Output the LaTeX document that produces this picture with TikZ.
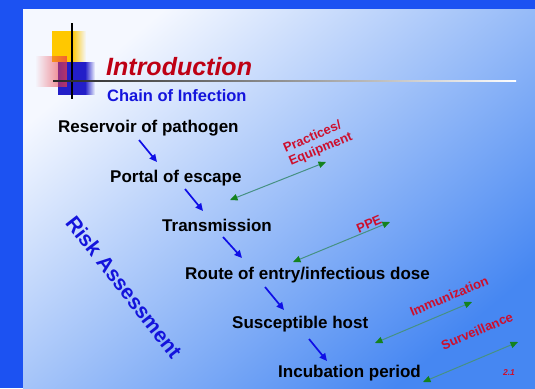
\documentclass[tikz,border=0pt]{standalone}
\usepackage{fontspec}
\setmainfont{Liberation Sans}
\usetikzlibrary{arrows.meta,fadings}
\definecolor{frameblue}{RGB}{28,82,242}
\definecolor{panelA}{RGB}{245,248,255}
\definecolor{panelB}{RGB}{160,192,250}
\definecolor{panelC}{RGB}{70,135,242}
\definecolor{titlered}{RGB}{190,0,20}
\definecolor{labelred}{RGB}{205,15,45}
\definecolor{textblue}{RGB}{20,20,220}
\definecolor{arrowblue}{RGB}{15,15,230}
\definecolor{lineteal}{RGB}{70,145,130}
\definecolor{tipgreen}{RGB}{20,130,30}
\definecolor{decoyellow}{RGB}{255,200,0}
\definecolor{decored}{RGB}{235,60,70}
\definecolor{decoblue}{RGB}{35,30,200}
\tikzset{
  chainitem/.style={anchor=base west, inner sep=0pt, font=\fontsize{17}{20}\selectfont\bfseries, text=black},
  sidelabel/.style={inner sep=0pt, rotate=23, font=\fontsize{13}{14.5}\selectfont\bfseries, text=labelred},
  bluearrow/.style={draw=arrowblue, line width=1.7pt, -{Triangle[length=7.5pt,width=7pt]}},
  greenarrow/.style={draw=lineteal, line width=1pt,
     {Triangle[length=7.5pt,width=6.5pt,color=tipgreen]}-{Triangle[length=7.5pt,width=6.5pt,color=tipgreen]}}
}
\begin{document}
\begin{tikzpicture}[x=1pt,y=-1pt]
\useasboundingbox (0,0) rectangle (535,388);
% frame and panel
\fill[frameblue] (0,0) rectangle (535,388);
\shade[top color=panelA, middle color=panelB, bottom color=panelC, shading angle=40] (23,9) rectangle (535,388);
% decoration
\fill[decoblue] (58,62) rectangle (85,95);
\fill[decoblue, path fading=east] (85,62) rectangle (95,95);
\fill[decoyellow] (52,31) rectangle (72,62);
\fill[decoyellow, path fading=east] (72,31) rectangle (86,62);
\fill[decored, fill opacity=0.75, path fading=west] (35,56) rectangle (67,87);
\draw[black, line width=1.3pt] (72,23) -- (72,99);
\shade[left color=black!85, middle color=black!55, right color=white] (53,80.3) rectangle (516,81.7);
% titles
\node[anchor=base west, inner sep=0pt, font=\fontsize{25}{28}\selectfont\bfseries\itshape, text=titlered] (title) at (106,75) {Introduction};
\node[anchor=base west, inner sep=0pt, font=\fontsize{16.5}{19}\selectfont\bfseries, text=textblue] (subtitle) at (107,101) {Chain of Infection};
% chain
\node[chainitem] (n1) at (58,132) {Reservoir of pathogen};
\node[chainitem] (n2) at (110,182) {Portal of escape};
\node[chainitem] (n3) at (162,231) {Transmission};
\node[chainitem] (n4) at (185,279) {Route of entry/infectious dose};
\node[chainitem] (n5) at (232,328) {Susceptible host};
\node[chainitem] (n6) at (278,377) {Incubation period};
% blue arrows
\coordinate (a1s) at (139,140); \coordinate (a1e) at (157,162);
\coordinate (a2s) at (185,189); \coordinate (a2e) at (203,211);
\coordinate (a3s) at (223,237); \coordinate (a3e) at (242,258);
\coordinate (a4s) at (265,287); \coordinate (a4e) at (284,310);
\coordinate (a5s) at (309,339); \coordinate (a5e) at (327,361);
\draw[bluearrow] (a1s) -- (a1e);
\draw[bluearrow] (a2s) -- (a2e);
\draw[bluearrow] (a3s) -- (a3e);
\draw[bluearrow] (a4s) -- (a4e);
\draw[bluearrow] (a5s) -- (a5e);
% green double arrows
\coordinate (g1a) at (230,200); \coordinate (g1b) at (326,162);
\coordinate (g2a) at (293,262); \coordinate (g2b) at (390,222);
\coordinate (g3a) at (375,343); \coordinate (g3b) at (472,302);
\coordinate (g4a) at (423,382); \coordinate (g4b) at (518,342);
\draw[greenarrow] (g1a) -- (g1b);
\draw[greenarrow] (g2a) -- (g2b);
\draw[greenarrow] (g3a) -- (g3b);
\draw[greenarrow] (g4a) -- (g4b);
% side labels
\node[sidelabel, align=left] (l1) at (318,143) {Practices/\\Equipment};
\node[sidelabel] (l2) at (369,224) {PPE};
\node[sidelabel] (l3) at (449,296) {Immunization};
\node[sidelabel] (l4) at (477,331) {Surveillance};
% risk assessment
\node[inner sep=0pt, rotate=-52, font=\fontsize{21}{24}\selectfont\bfseries, text=textblue] (risk) at (124,287) {Risk Assessment};
% page number
\node[inner sep=0pt, font=\fontsize{8.5}{10}\selectfont\bfseries\itshape, text=labelred] (pg) at (509,373) {2.1};
\end{tikzpicture}
\end{document}
